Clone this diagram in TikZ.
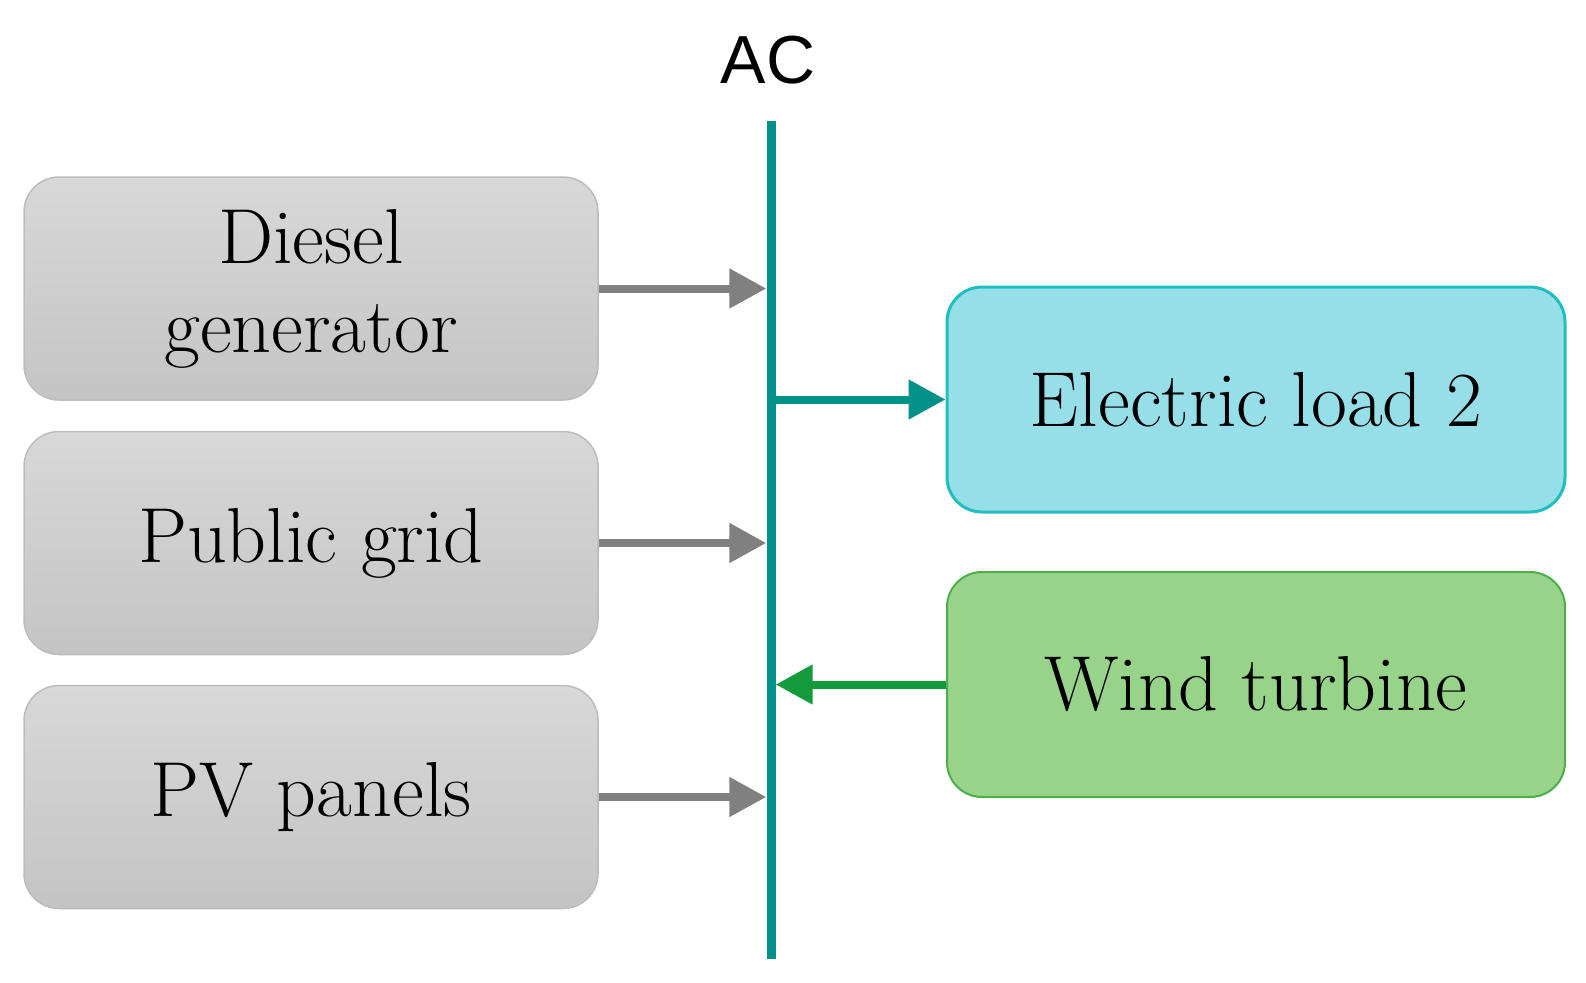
\documentclass[tikz,border=0pt]{standalone}
\usepackage{fontspec}
\newfontfamily\acfont{Liberation Sans}
\usetikzlibrary{positioning}
\usetikzlibrary{arrows.meta}

\definecolor{srctop}{RGB}{216,216,216}
\definecolor{srcbot}{RGB}{196,196,196}
\definecolor{srcedge}{RGB}{188,188,188}
\definecolor{flowgray}{RGB}{128,128,128}
\definecolor{busteal}{RGB}{0,145,138}
\definecolor{loadfill}{RGB}{151,223,232}
\definecolor{loadedge}{RGB}{32,190,192}
\definecolor{windfill}{RGB}{151,212,138}
\definecolor{windedge}{RGB}{76,174,76}
\definecolor{windarrow}{RGB}{18,154,59}

\tikzset{
  blocktext/.style={font=\fontsize{78}{89}\selectfont, align=center, inner sep=0pt, rounded corners=35pt},
  srcbox/.style={blocktext, draw=srcedge, line width=1.5pt, top color=srctop, bottom color=srcbot, minimum width=574pt, minimum height=223pt},
  loadbox/.style={blocktext, draw=loadedge, fill=loadfill, line width=3pt, minimum width=618pt, minimum height=225pt},
  windbox/.style={blocktext, draw=windedge, fill=windfill, line width=2pt, minimum width=618pt, minimum height=225pt},
  flow/.style={line width=8pt, -{Triangle[length=37pt, width=38pt]}}
}

\begin{document}
\begin{tikzpicture}[x=1pt, y=-1pt]
    \useasboundingbox (0, 0) rectangle (1586, 982);
    % AC bus
    \node (bus) at (771, 540) [fill=busteal, inner sep=0pt, minimum width=9pt, minimum height=838pt] {};
    \node (ac) at (768, 83) [anchor=base, inner sep=0pt, font=\acfont\fontsize{68}{80}\selectfont] {AC};
    % sources on the left
    \node (diesel) at (311, 288.5) [srcbox] {Diesel\\generator};
    \node (grid) at (311, 543) [srcbox] {Public grid};
    \node (pv) at (311, 797) [srcbox] {PV panels};
    % load and wind turbine on the right
    \node (load) at (1256, 399.5) [loadbox] {Electric load 2};
    \node (wind) at (1256, 684.5) [windbox] {Wind turbine};
    \draw[flow, flowgray] (diesel.east) -- (diesel.east -| bus.west);
    \draw[flow, flowgray] (grid.east) -- (grid.east -| bus.west);
    \draw[flow, flowgray] (pv.east) -- (pv.east -| bus.west);
    \draw[flow, busteal] (load.west -| bus.east) -- (load.west);
    \draw[flow, windarrow] (wind.west) -- (wind.west -| bus.east);
\end{tikzpicture}
\end{document}
